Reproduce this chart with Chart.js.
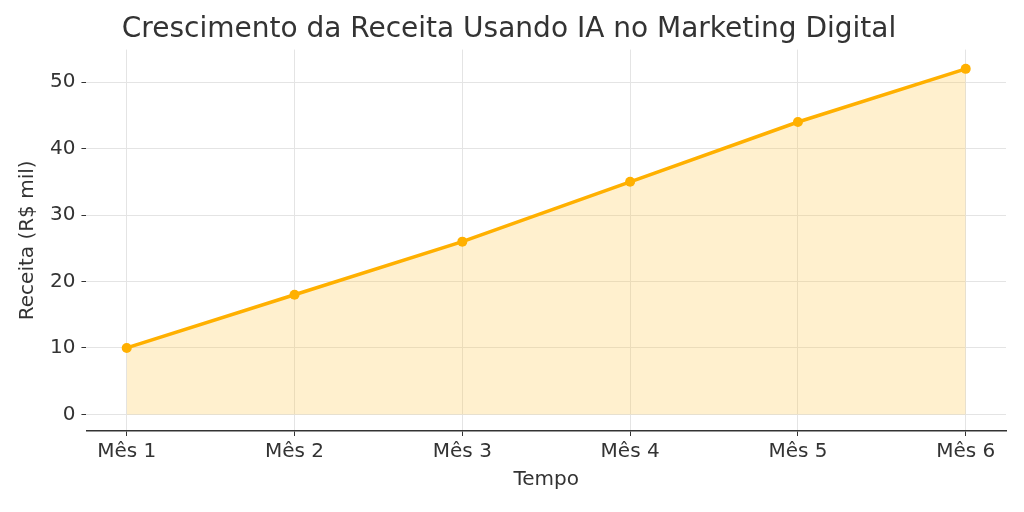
<!DOCTYPE html>
<html>
<head>
<meta charset="utf-8">
<script src="https://cdn.jsdelivr.net/npm/chart.js@4"></script>
<style>
  html, body { margin: 0; padding: 0; background: #fff; }
  #wrap { width: 1024px; height: 512px; }
</style>
</head>
<body>
<div id="wrap"><canvas id="revenueChart"></canvas></div>
<script>
// Chart data
const months = ['Mês 1', 'Mês 2', 'Mês 3', 'Mês 4', 'Mês 5', 'Mês 6'];
const monthIndex = [1, 2, 3, 4, 5, 6];
const revenue = [10, 18, 26, 35, 44, 52];
const yTicks = [0, 10, 20, 30, 40, 50];

const ctx = document.getElementById('revenueChart').getContext('2d');
Chart.defaults.font.family = '"DejaVu Sans", sans-serif';
Chart.defaults.color = '#333';

new Chart(ctx, {
    type: 'line',
    data: {
        datasets: [{
            data: monthIndex.map((m, i) => ({ x: m, y: revenue[i] })),
            borderColor: '#FFB000',
            backgroundColor: 'rgba(255, 200, 80, 0.28)',
            borderWidth: 3.5,
            pointRadius: 5,
            pointBackgroundColor: '#FFB000',
            pointBorderWidth: 0,
            tension: 0,
            fill: 'origin'
        }]
    },
    options: {
        responsive: true,
        maintainAspectRatio: false,
        animation: false,
        layout: { padding: { left: 12, right: 18, top: 0, bottom: 16 } },
        plugins: {
            legend: { display: false },
            tooltip: { enabled: false },
            title: {
                display: true,
                text: 'Crescimento da Receita Usando IA no Marketing Digital',
                font: { size: 28, weight: 'normal' },
                color: '#333',
                padding: { top: 13, bottom: 3 }
            }
        },
        scales: {
            x: {
                type: 'linear',
                min: 0.76,
                max: 6.24,
                afterBuildTicks: axis => { axis.ticks = monthIndex.map(v => ({ value: v })); },
                ticks: {
                    font: { size: 20 },
                    color: '#333',
                    padding: 4,
                    callback: v => months[monthIndex.indexOf(v)]
                },
                grid: { color: '#e4e4e4', drawTicks: true, tickColor: '#333', tickLength: 5 },
                border: { display: true, color: '#333', width: 1.5 },
                title: { display: true, text: 'Tempo', font: { size: 20 }, color: '#333', padding: { top: 0 } }
            },
            y: {
                min: -2.5,
                max: 54.9,
                afterBuildTicks: axis => { axis.ticks = yTicks.map(v => ({ value: v })); },
                ticks: { font: { size: 20 }, color: '#333', padding: 6 },
                grid: { color: '#e4e4e4', tickColor: '#333', tickLength: 5 },
                border: { display: false },
                title: { display: true, text: 'Receita (R$ mil)', font: { size: 20 }, color: '#333' }
            }
        }
    }
});
</script>
</body>
</html>
